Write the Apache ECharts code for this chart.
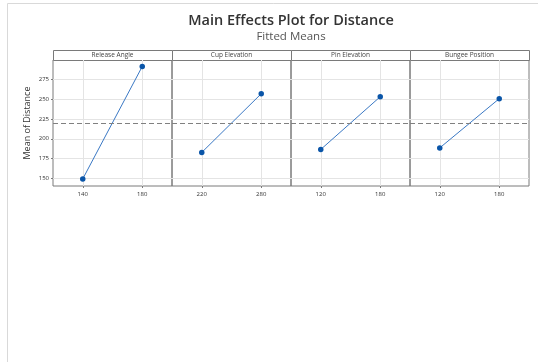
<!DOCTYPE html>
<html>
<head>
<meta charset="utf-8">
<script src="https://cdn.jsdelivr.net/npm/echarts@6/dist/echarts.min.js"></script>
<style>
html,body{margin:0;padding:0;background:#fff;}
#chart{width:538px;height:362px;}
</style>
</head>
<body>
<div id="chart"></div>
<script>
// ---- data ----
const factors = ['Release Angle', 'Cup Elevation', 'Pin Elevation', 'Bungee Position'];
const lowLevels = [140, 220, 120, 120];
const highLevels = [180, 280, 180, 180];
const lowMeans = [149.0, 182.6, 186.4, 188.4];
const highMeans = [291.8, 257.2, 253.4, 250.9];
const overallMean = 219.8;
const yTicks = [150, 175, 200, 225, 250, 275];
const yMin = 140, yMax = 300;

// ---- layout ----
const panelLeft = 53, panelW = 119, plotTop = 60, plotBottom = 186, headerTop = 50;
const FONT = 'Open Sans, Noto Sans, sans-serif';

const chart = echarts.init(document.getElementById('chart'), null, {renderer: 'canvas'});

const grids = [], xAxes = [], yAxes = [], series = [], graphics = [];

graphics.push({
  type: 'rect', silent: true,
  shape: {x: 7.5, y: 3.5, width: 700, height: 500},
  style: {fill: 'none', stroke: '#d9d9d9', lineWidth: 1}
});

factors.forEach((f, i) => {
  const left = panelLeft + i * panelW;
  grids.push({
    left: left, top: plotTop, width: panelW, height: plotBottom - plotTop,
    show: true, borderColor: '#7a7a7a', borderWidth: 1, backgroundColor: 'transparent'
  });
  const lo = lowLevels[i], hi = highLevels[i], span = hi - lo;
  xAxes.push({
    type: 'value', gridIndex: i, min: lo - span / 2, max: hi + span / 2,
    axisLine: {show: false},
    axisTick: {show: true, length: 2, lineStyle: {color: '#7a7a7a'}, customValues: [lo, hi]},
    axisLabel: {show: true, fontSize: 6, color: '#333', fontFamily: FONT, margin: 5, customValues: [lo, hi]},
    splitLine: {show: true, lineStyle: {color: '#e4e4e4', width: 1}}
  });
  yAxes.push({
    type: 'value', gridIndex: i, min: yMin, max: yMax,
    name: i === 0 ? 'Mean of Distance' : '',
    nameLocation: 'middle', nameGap: 21,
    nameTextStyle: {fontSize: 9, color: '#333', fontFamily: FONT},
    axisLine: {show: false},
    axisTick: {show: i === 0, length: 2, lineStyle: {color: '#7a7a7a'}, customValues: yTicks},
    axisLabel: {show: i === 0, fontSize: 6, color: '#333', fontFamily: FONT, margin: 4, customValues: yTicks},
    splitLine: {show: true, lineStyle: {color: '#e4e4e4', width: 1}}
  });
  series.push({
    type: 'line', xAxisIndex: i, yAxisIndex: i,
    data: [[lo, lowMeans[i]], [hi, highMeans[i]]],
    symbol: 'circle', symbolSize: 5.5,
    itemStyle: {color: '#0a55a8'},
    lineStyle: {color: '#3a78c4', width: 1},
    silent: true, animation: false, z: 3,
    markLine: {
      silent: true, symbol: 'none', animation: false,
      label: {show: false},
      lineStyle: {color: '#808080', type: [5, 3], width: 1},
      data: [{yAxis: overallMean}]
    }
  });
  graphics.push({
    type: 'rect', silent: true,
    shape: {x: left + 0.5, y: headerTop + 0.5, width: panelW, height: plotTop - headerTop},
    style: {fill: '#fff', stroke: '#7a7a7a', lineWidth: 1}
  });
  graphics.push({
    type: 'text', silent: true,
    style: {
      text: f, x: left + panelW / 2, y: (headerTop + plotTop) / 2 + 0.5,
      align: 'center', verticalAlign: 'middle',
      fontSize: 6.5, fill: '#444', fontFamily: FONT
    }
  });
});

chart.setOption({
  animation: false,
  title: {
    text: 'Main Effects Plot for Distance',
    subtext: 'Fitted Means',
    left: 291, textAlign: 'center', top: 13, itemGap: 3, padding: 0,
    textStyle: {fontSize: 14.5, fontWeight: 600, color: '#333', fontFamily: FONT},
    subtextStyle: {fontSize: 11.5, color: '#555', fontFamily: FONT}
  },
  grid: grids,
  xAxis: xAxes,
  yAxis: yAxes,
  series: series,
  graphic: graphics
});
</script>
</body>
</html>
